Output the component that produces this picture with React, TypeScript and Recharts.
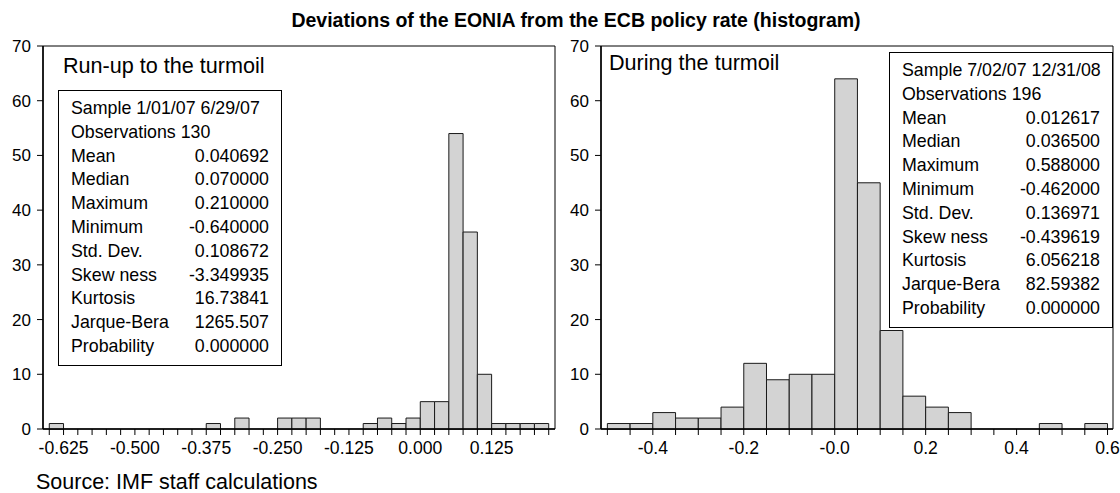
import React from "react"
import { BarChart, Bar, XAxis, YAxis, ReferenceArea } from "recharts"

const FONT = '"Liberation Sans", Arial, sans-serif'

// Run-up to the turmoil: bins of 0.025 starting at -0.65
const runupStart = -0.65
const runupBinWidth = 0.025
const runupCounts = [
  1, 0, 0, 0, 0, 0, 0, 0, 0, 0, 0, 1, 0, 2, 0, 0, 2, 2, 2, 0, 0, 0, 1, 2, 1, 2, 5, 5, 54, 36, 10, 1, 1, 1, 1,
]
const runupDomain = [-0.661, 0.236]
const runupLabelTicks = [-0.625, -0.5, -0.375, -0.25, -0.125, 0, 0.125]
const runupLabels = ["-0.625", "-0.500", "-0.375", "-0.250", "-0.125", "0.000", "0.125"]

// During the turmoil: bins of 0.05 starting at -0.5
const turmoilStart = -0.5
const turmoilBinWidth = 0.05
const turmoilCounts = [1, 1, 3, 2, 2, 4, 12, 9, 10, 10, 64, 45, 18, 6, 4, 3, 0, 0, 0, 1, 0, 1]
const turmoilDomain = [-0.514, 0.612]
const turmoilLabelTicks = [-0.4, -0.2, 0, 0.2, 0.4, 0.6]
const turmoilLabels = ["-0.4", "-0.2", "-0.0", "0.2", "0.4", "0.6"]

const countTicks = [0, 10, 20, 30, 40, 50, 60, 70]

const runupHeader = ["Sample 1/01/07 6/29/07", "Observations 130"]
const runupStats = [
  ["Mean", "0.040692"],
  ["Median", "0.070000"],
  ["Maximum", "0.210000"],
  ["Minimum", "-0.640000"],
  ["Std. Dev.", "0.108672"],
  ["Skew ness", "-3.349935"],
  ["Kurtosis", "16.73841"],
  ["Jarque-Bera", "1265.507"],
  ["Probability", "0.000000"],
]

const turmoilHeader = ["Sample 7/02/07 12/31/08", "Observations 196"]
const turmoilStats = [
  ["Mean", "0.012617"],
  ["Median", "0.036500"],
  ["Maximum", "0.588000"],
  ["Minimum", "-0.462000"],
  ["Std. Dev.", "0.136971"],
  ["Skew ness", "-0.439619"],
  ["Kurtosis", "6.056218"],
  ["Jarque-Bera", "82.59382"],
  ["Probability", "0.000000"],
]

const round6 = (v: number) => Math.round(v * 1e6) / 1e6

interface HistogramProps {
  counts: number[]
  start: number
  binWidth: number
  domain: number[]
  labelTicks: number[]
  labels: string[]
  width: number
  yAxisWidth: number
  marginRight: number
}

const CHART_HEIGHT = 470
const TOP = 46
const X_AXIS_HEIGHT = 41

const Histogram: React.FC<HistogramProps> = ({
  counts,
  start,
  binWidth,
  domain,
  labelTicks,
  labels,
  width,
  yAxisWidth,
  marginRight,
}) => {
  const data = counts.map((count, i) => ({ mid: round6(start + (i + 0.5) * binWidth), count }))
  const edges = [...counts, 0].map((_, i) => round6(start + i * binWidth))
  const plotWidth = width - yAxisWidth - marginRight
  // keep just under the band size, otherwise recharts shrinks bars to 90%
  const barSize = (plotWidth / (domain[1] - domain[0])) * binWidth - 0.02

  const formatTick = (v: number) => {
    const idx = labelTicks.findIndex((t) => Math.abs(t - v) < 1e-9)
    return idx >= 0 ? labels[idx] : ""
  }

  return (
    <BarChart
      width={width}
      height={CHART_HEIGHT}
      data={data}
      margin={{ top: TOP, right: marginRight, left: 0, bottom: 0 }}
      barCategoryGap={0}
      barGap={0}
    >
      <ReferenceArea x1={domain[0]} x2={domain[1]} y1={0} y2={70} fill="none" stroke="#000" strokeWidth={1} />
      <XAxis
        dataKey="mid"
        type="number"
        domain={domain}
        allowDataOverflow
        ticks={edges}
        interval={0}
        tickFormatter={formatTick}
        height={X_AXIS_HEIGHT}
        tickSize={6}
        tickMargin={7}
        axisLine={{ stroke: "#000", strokeWidth: 1.5 }}
        tickLine={{ stroke: "#000" }}
        tick={{ fill: "#000", fontSize: 17.6, fontFamily: FONT }}
      />
      <YAxis
        type="number"
        domain={[0, 70]}
        ticks={countTicks}
        interval={0}
        width={yAxisWidth}
        tickSize={6}
        tickMargin={6}
        axisLine={{ stroke: "#000", strokeWidth: 1.5 }}
        tickLine={{ stroke: "#000" }}
        tick={{ fill: "#000", fontSize: 17, fontFamily: FONT }}
      />
      <Bar dataKey="count" fill="#d3d3d3" stroke="#1a1a1a" strokeWidth={1} barSize={barSize} isAnimationActive={false} />
    </BarChart>
  )
}

interface StatsBoxProps {
  left: number
  top: number
  header: string[]
  stats: string[][]
}

const StatsBox: React.FC<StatsBoxProps> = ({ left, top, header, stats }) => (
  <div
    style={{
      position: "absolute",
      left,
      top,
      width: 224,
      height: 276,
      boxSizing: "border-box",
      border: "1px solid #000",
      background: "#fff",
      padding: "6px 12px 0 12px",
      fontFamily: FONT,
      fontSize: 17.8,
      lineHeight: "23.8px",
      color: "#000",
    }}
  >
    {header.map((h) => (
      <div key={h} style={{ whiteSpace: "nowrap" }}>
        {h}
      </div>
    ))}
    {stats.map(([label, value]) => (
      <div key={label} style={{ display: "flex", justifyContent: "space-between", whiteSpace: "nowrap" }}>
        <span>{label}</span>
        <span>{value}</span>
      </div>
    ))}
  </div>
)

export default function App() {
  return (
    <div
      style={{
        position: "absolute",
        left: 0,
        top: 0,
        width: 1120,
        height: 493,
        background: "#fff",
        fontFamily: FONT,
        color: "#000",
      }}
    >
      <div
        style={{
          position: "absolute",
          left: 0,
          top: 8,
          width: 1152,
          textAlign: "center",
          fontWeight: "bold",
          fontSize: 19.5,
          lineHeight: "24px",
          whiteSpace: "nowrap",
        }}
      >
        Deviations of the EONIA from the ECB policy rate (histogram)
      </div>

      <div style={{ position: "absolute", left: 0, top: 0 }}>
        <Histogram
          counts={runupCounts}
          start={runupStart}
          binWidth={runupBinWidth}
          domain={runupDomain}
          labelTicks={runupLabelTicks}
          labels={runupLabels}
          width={560}
          yAxisWidth={43}
          marginRight={5}
        />
      </div>
      <div style={{ position: "absolute", left: 560, top: 0 }}>
        <Histogram
          counts={turmoilCounts}
          start={turmoilStart}
          binWidth={turmoilBinWidth}
          domain={turmoilDomain}
          labelTicks={turmoilLabelTicks}
          labels={turmoilLabels}
          width={560}
          yAxisWidth={41}
          marginRight={7}
        />
      </div>

      <div style={{ position: "absolute", left: 63, top: 53, fontSize: 21.6, lineHeight: "26px", whiteSpace: "nowrap" }}>
        Run-up to the turmoil
      </div>
      <div style={{ position: "absolute", left: 609, top: 50, fontSize: 21.6, lineHeight: "26px", whiteSpace: "nowrap" }}>
        During the turmoil
      </div>

      <StatsBox left={58} top={90} header={runupHeader} stats={runupStats} />
      <StatsBox left={889} top={52} header={turmoilHeader} stats={turmoilStats} />

      <div style={{ position: "absolute", left: 36, top: 469, fontSize: 21.5, lineHeight: "26px", whiteSpace: "nowrap" }}>
        Source: IMF staff calculations
      </div>
    </div>
  )
}
